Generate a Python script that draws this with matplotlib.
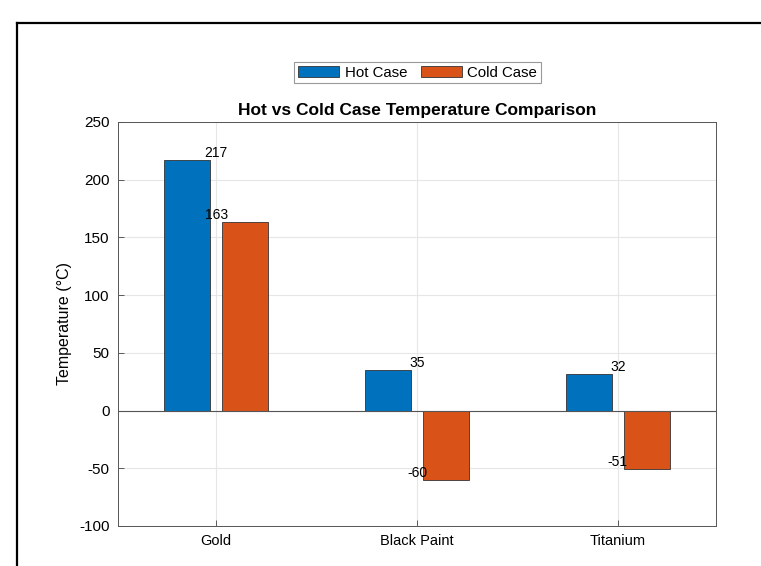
import numpy as np
import matplotlib
matplotlib.use('Agg')
import matplotlib.pyplot as plt
from matplotlib.lines import Line2D

plt.rcParams['font.family'] = ['Liberation Sans', 'DejaVu Sans']
plt.rcParams['axes.unicode_minus'] = False

# donnees
materials = ['Gold', 'Black Paint', 'Titanium']
hot_case = [217, 35, 32]
cold_case = [163, -60, -51]
series_names = ['Hot Case', 'Cold Case']

blue = '#0072BD'
orange = '#D95319'

fig = plt.figure(figsize=(7.61, 5.66), dpi=100)
ax = fig.add_axes([0.155, 0.0707, 0.786, 0.714])

x = np.arange(1, len(materials) + 1)
w = 0.229
off = 0.144
ax.bar(x - off, hot_case, w, color=blue, edgecolor='#333333', linewidth=0.6,
       label=series_names[0], zorder=3)
ax.bar(x + off, cold_case, w, color=orange, edgecolor='#333333', linewidth=0.6,
       label=series_names[1], zorder=3)

# valeurs au dessus des barres (centrees sur la categorie)
for xi, h, c in zip(x, hot_case, cold_case):
    ax.text(xi, h, str(h), ha='center', va='bottom', fontsize=10, zorder=4)
    ax.text(xi, c, str(c), ha='center', va='bottom', fontsize=10, zorder=4)

ax.axhline(0, color='#555555', linewidth=0.8, zorder=3)

ax.set_xlim(0.51, 3.49)
ax.set_ylim(-100, 250)
ax.set_xticks(x)
ax.set_xticklabels(materials, fontsize=10.5)
ax.set_yticks(np.arange(-100, 251, 50))
ax.tick_params(axis='y', labelsize=11)
ax.tick_params(direction='in', length=4, width=0.6, color='#444444', pad=6)
ax.grid(True, color='#e6e6e6', linewidth=0.8, zorder=0)
for s in ax.spines.values():
    s.set_color('#555555')
    s.set_linewidth(0.7)

ax.set_ylabel('Temperature (°C)', fontsize=11.5, labelpad=5)
ax.set_title('Hot vs Cold Case Temperature Comparison', fontsize=12.5,
             fontweight='bold', pad=5)

leg = ax.legend(loc='center', bbox_to_anchor=(0.501, 1.122), ncol=2,
                fontsize=10.8, handlelength=2.75, handleheight=0.8,
                handletextpad=0.35, columnspacing=0.9, borderpad=0.25,
                borderaxespad=0, fancybox=False, framealpha=1)
leg.get_frame().set_edgecolor('#999999')
leg.get_frame().set_linewidth(0.8)

# cadre noir (haut et gauche)
fig.add_artist(Line2D([17 / 761, 1], [1 - 23 / 566] * 2, color='black',
                      linewidth=1.6, transform=fig.transFigure))
fig.add_artist(Line2D([17 / 761] * 2, [0, 1 - 23 / 566], color='black',
                      linewidth=1.6, transform=fig.transFigure))

fig.savefig('out.png', dpi=100)
